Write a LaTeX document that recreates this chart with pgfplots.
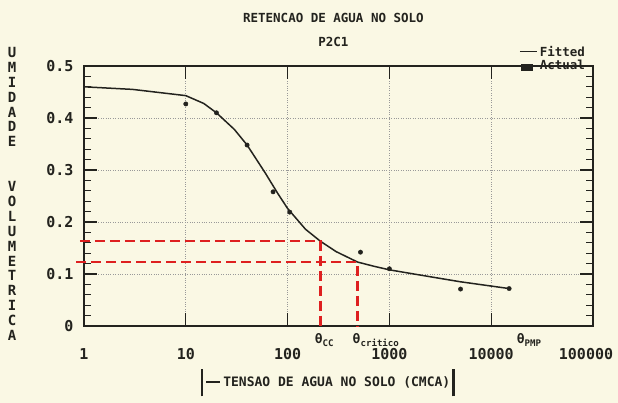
\documentclass[border=0pt]{standalone}
\usepackage{fontspec}
\setmainfont{DejaVu Sans Mono}
\usepackage{pgfplots}
\pgfplotsset{compat=1.18}
\definecolor{paper}{RGB}{250,248,228}
\definecolor{ink}{RGB}{35,35,30}
\definecolor{redd}{RGB}{222,32,32}
\begin{document}
\begin{tikzpicture}[x=1pt,y=1pt]
\fill[paper] (0,0) rectangle (618,403);
\useasboundingbox (0,0) rectangle (618,403);
\begin{axis}[
  at={(84pt,77pt)}, anchor=south west,
  scale only axis, width=509pt, height=260pt,
  xmode=log, log basis x=10,
  xmin=1, xmax=100000, ymin=0, ymax=0.5,
  clip=false,
  xtick={1,10,100,1000,10000,100000},
  xticklabels={1,10,100,1000,10000,100000\hspace*{14pt}},
  ytick={0,0.1,0.2,0.3,0.4,0.5},
  yticklabels={0,0.1,0.2,0.3,0.4,0.5},
  minor y tick num=4,
  xminorticks=false,
  tick align=inside,
  major tick length=13pt,
  minor tick length=7pt,
  every tick/.style={ink, line width=1.2pt},
  axis line style={ink, line width=1.9pt},
  grid=major,
  major grid style={dotted, black!40, line width=0.9pt},
  tick label style={font=\fontsize{15}{15}\selectfont\bfseries, text=ink},
  xticklabel style={yshift=-19pt},
  yticklabel style={xshift=-7pt},
  every axis x label/.style={at={(rel axis cs:0.479,-0.219)}, anchor=center},
  every axis y label/.style={at={(rel axis cs:-0.1415,0.508)}, anchor=center},
  every axis title/.style={at={(rel axis cs:0.49,1.138)}, anchor=center, align=center,
     font=\fontsize{12.5}{24}\selectfont\bfseries, text=ink},
  title={RETENCAO DE AGUA NO SOLO\\P2C1},
  xlabel={\vrule width 2.5pt height 17pt depth 10pt\hspace{3pt}\rule[3.5pt]{14pt}{2.4pt}\hspace{3pt}TENSAO DE AGUA NO SOLO (CMCA)\hspace{2pt}\vrule width 2.5pt height 17pt depth 10pt},
  xlabel style={font=\fontsize{13}{13}\selectfont\bfseries, text=ink},
  ylabel={\parbox{16pt}{\centering\fontsize{14}{14.9}\selectfont\bfseries U\\M\\I\\D\\A\\D\\E\\\mbox{}\\\mbox{}\\V\\O\\L\\U\\M\\E\\T\\R\\I\\C\\A}},
  ylabel style={text=ink},
  legend style={at={(rel axis cs:0.855,1.085)}, anchor=north west, draw=none, fill=none,
     font=\fontsize{12.5}{12.5}\selectfont\bfseries, text=ink, row sep=-2pt,
     inner sep=0pt, outer sep=0pt},
  legend cell align=left,
]
\addplot[ink, line width=1.5pt] coordinates {
  (1,0.460) (3,0.455) (10,0.443) (15,0.428) (20,0.410) (30,0.378)
  (40,0.348) (60,0.295) (80,0.255) (100,0.226) (150,0.186) (210,0.163)
  (300,0.143) (486,0.123) (700,0.115) (1000,0.108) (2000,0.098)
  (5000,0.085) (15000,0.072)};
\addlegendentry{Fitted}
\addplot[only marks, mark=*, mark size=2.2pt, ink,
  legend image code/.code={\fill[ink] (0.06cm,-0.18cm) rectangle (0.42cm,0.03cm);}]
  coordinates {
  (10,0.427) (20,0.410) (40,0.348) (72,0.258) (105,0.219)
  (520,0.142) (1000,0.110) (5000,0.071) (15000,0.072)};
\addlegendentry{Actual}
\addplot[redd, line width=2.5pt, dash pattern=on 10pt off 5pt] coordinates {
  (0.91,0.163) (210,0.163) (210,0)};
\addplot[redd, line width=2.5pt, dash pattern=on 10pt off 5pt] coordinates {
  (0.84,0.123) (486,0.123) (486,0)};
\node[text=ink, font=\fontsize{13}{13}\selectfont\bfseries] at (axis cs:230,-0.027) {θ\textsubscript{CC}};
\node[text=ink, font=\fontsize{13}{13}\selectfont\bfseries] at (axis cs:740,-0.027) {θ\textsubscript{critico}};
\node[text=ink, font=\fontsize{13}{13}\selectfont\bfseries] at (axis cs:23600,-0.027) {θ\textsubscript{PMP}};
\end{axis}
\end{tikzpicture}
\end{document}
